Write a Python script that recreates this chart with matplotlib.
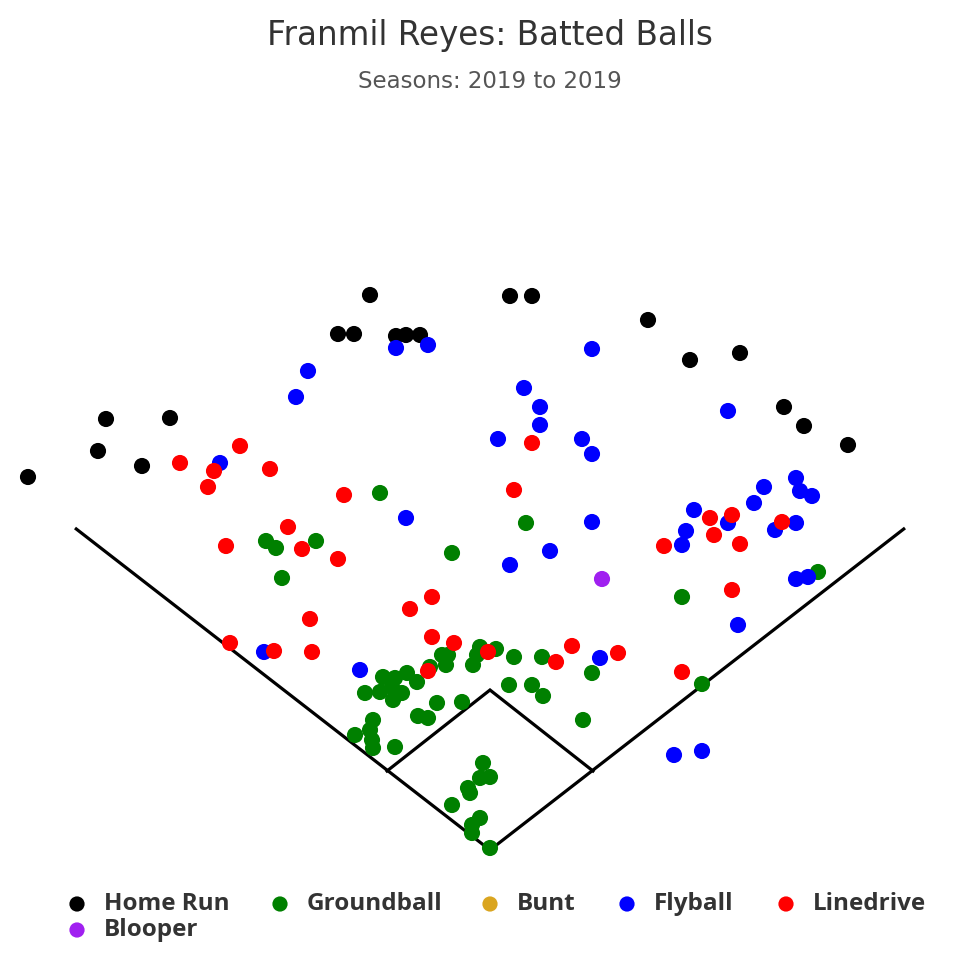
import matplotlib
matplotlib.use("Agg")
import matplotlib.pyplot as plt

# ---- data (hit coordinates) ----
hr_x = [28, 98, 106, 142, 170, 338, 354, 370, 396, 406, 420, 510, 532, 648, 690, 740, 784, 804, 848]
hr_y = [477, 451, 419, 466, 418, 334, 334, 295, 336, 335, 335, 296, 296, 320, 360, 353, 407, 426, 445]

gb_x = [380, 266, 276, 316, 282, 452, 526, 818, 682, 702,
        480, 496, 477, 442, 448, 446, 473, 430, 514, 542, 592, 509, 532, 543, 437, 462, 428, 418, 583,
        365, 380, 383, 395, 407, 417, 402, 393, 392,
        373, 370, 355, 372, 373, 395,
        483, 490, 480, 468, 470, 452, 480, 472, 472, 490]
gb_y = [493, 541, 548, 541, 578, 553, 523, 572, 597, 684,
        647, 649, 655, 655, 655, 665, 665, 667, 657, 657, 673, 685, 685, 696, 703, 702, 718, 716, 720,
        693, 692, 677, 678, 673, 682, 693, 700, 687,
        720, 730, 735, 740, 748, 747,
        763, 777, 778, 788, 793, 805, 818, 825, 833, 848]

bunt_x = []
bunt_y = []

fb_x = [396, 428, 308, 296, 220, 592, 524, 540, 540, 498, 582, 592, 728, 406, 592, 550, 510, 360, 264, 600,
        796, 764, 800, 812, 754, 694, 728, 796, 686, 775, 682, 796, 808, 738, 674, 702]
fb_y = [348, 345, 371, 397, 463, 349, 388, 407, 425, 439, 439, 454, 411, 518, 522, 551, 565, 670, 652, 658,
        478, 487, 491, 496, 503, 510, 523, 523, 531, 530, 545, 579, 577, 625, 755, 751]

ld_x = [180, 240, 214, 270, 208, 344, 288, 226, 302, 338, 432, 410, 310, 432, 454, 230, 274, 312, 488, 428,
        572, 556, 618, 532, 514, 710, 732, 714, 664, 740, 782, 732, 682]
ld_y = [463, 446, 471, 469, 487, 495, 527, 546, 549, 559, 597, 609, 619, 637, 643, 643, 651, 652, 652, 671,
        646, 662, 653, 443, 490, 518, 515, 535, 546, 544, 522, 590, 672]

bl_x = [602]
bl_y = [579]

categories = ["Home Run", "Groundball", "Bunt", "Flyball", "Linedrive", "Blooper"]
series_x = [hr_x, gb_x, bunt_x, fb_x, ld_x, bl_x]
series_y = [hr_y, gb_y, bunt_y, fb_y, ld_y, bl_y]
colors = ["#000000", "#008000", "#DAA520", "#0000FF", "#FF0000", "#A020F0"]

# field geometry (same coordinate system)
home = (490, 850)
left_foul = (75, 528)
right_foul = (905, 528)
first_b = (593, 771)
second_b = (490, 690)
third_b = (387, 771)

fig = plt.figure(figsize=(9.8, 9.8), dpi=100)
ax = fig.add_axes([0, 0, 1, 1])
ax.set_xlim(0, 980)
ax.set_ylim(980, 0)
ax.axis("off")

lw = 2.3
ax.plot([left_foul[0], home[0], right_foul[0]], [left_foul[1], home[1], right_foul[1]],
        color="black", lw=lw, solid_capstyle="butt", solid_joinstyle="miter", zorder=1)
ax.plot([third_b[0], second_b[0], first_b[0]], [third_b[1], second_b[1], first_b[1]],
        color="black", lw=lw, solid_joinstyle="miter", zorder=1)

for i, (xs, ys, c) in enumerate(zip(series_x, series_y, colors)):
    if xs:
        ax.scatter(xs, ys, s=135, color=c, edgecolors="none", zorder=2 + i)

fig.text(0.5, 1 - 36 / 980, "Franmil Reyes: Batted Balls", ha="center", va="center",
         fontsize=23.5, color="#333333", family="DejaVu Sans")
fig.text(0.5, 1 - 81 / 980, "Seasons: 2019 to 2019", ha="center", va="center",
         fontsize=16.5, color="#555555", family="DejaVu Sans")

# legend
leg_pos = [(77, 904), (280, 904), (490, 904), (627, 904), (786, 904), (77, 930)]
for (lx, ly), name, c in zip(leg_pos, categories, colors):
    ax.scatter([lx], [ly], s=120, color=c, edgecolors="none", clip_on=False)
    ax.text(lx + 27, ly, name, ha="left", va="center", fontsize=17.5, fontweight="bold",
            color="#333333", family="Open Sans")

fig.savefig("out.png", dpi=100)
